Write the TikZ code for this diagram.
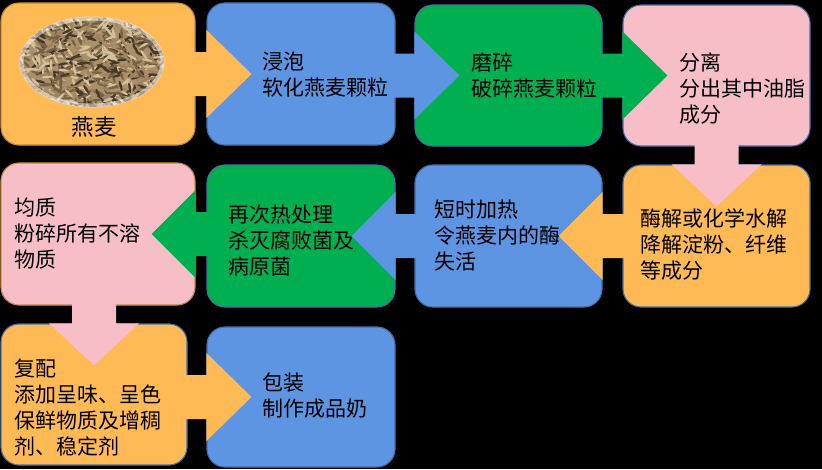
\documentclass[tikz,border=0pt]{standalone}
\usepackage{fontspec}
\newfontfamily\cjk{Noto Sans CJK SC}
\usetikzlibrary{calc}
\definecolor{cOr}{RGB}{255,185,85}
\definecolor{cBl}{RGB}{94,149,227}
\definecolor{cGr}{RGB}{0,176,80}
\definecolor{cPk}{RGB}{247,190,200}
\definecolor{edgeBl}{RGB}{65,113,170}
\definecolor{edgeOr}{RGB}{200,140,60}
\definecolor{oatBase}{RGB}{170,145,108}
\definecolor{oat0}{RGB}{72,56,40}
\definecolor{oat1}{RGB}{160,132,95}
\definecolor{oat2}{RGB}{212,192,155}
\definecolor{oat3}{RGB}{120,98,70}
\begin{document}
\begin{tikzpicture}[x=1pt,y=-1pt,
  box/.style={draw=edgeBl, line width=1.1pt, rounded corners=18pt, inner sep=0pt},
  txt/.style={font=\cjk\fontsize{21}{26}\selectfont, align=left, inner sep=0pt, anchor=west, text=black}]
\fill[black] (0,0) rectangle (822,469);
\useasboundingbox (0,0) rectangle (822,469);
% boxes
\node[box, draw=edgeOr, fill=cOr, minimum width=194pt, minimum height=142pt] (A) at (98,74) {};
\node[box, fill=cBl, minimum width=188pt, minimum height=142pt] (B) at (301,74) {};
\node[box, fill=cGr, minimum width=187pt, minimum height=141pt] (C) at (508.5,75.5) {};
\node[box, fill=cPk, minimum width=187pt, minimum height=141pt] (D) at (716.5,75.5) {};
\node[box, fill=cOr, minimum width=187pt, minimum height=142pt] (E) at (716.5,236) {};
\node[box, fill=cBl, minimum width=187pt, minimum height=142pt] (F) at (508.5,236) {};
\node[box, fill=cGr, minimum width=188pt, minimum height=142pt] (G) at (301,236) {};
\node[box, draw=edgeOr, fill=cPk, minimum width=194pt, minimum height=142pt] (H) at (98,234) {};
\node[box, fill=cOr, minimum width=186pt, minimum height=141pt] (I) at (94,394.5) {};
\node[box, fill=cBl, minimum width=188pt, minimum height=140pt] (J) at (301,397) {};
% oats picture
\begin{scope}
\clip (92,62) ellipse [x radius=72, y radius=45];
\fill[oatBase] (92,62) ellipse [x radius=72, y radius=45];
\pgfmathsetseed{11}
\foreach \i in {1,...,800}{
  \pgfmathsetmacro\gx{92+75*rand}
  \pgfmathsetmacro\gy{62+48*rand}
  \pgfmathsetmacro\ga{-20+70*rand}
  \pgfmathtruncatemacro\gc{mod(\i,4)}
  \fill[oat\gc, shift={(\gx,\gy)}, rotate=\ga] (0,0) ellipse [x radius=5.5, y radius=1.3];
}
\end{scope}
\draw[white, opacity=0.5, line width=4pt] (92,62) ellipse [x radius=70.5, y radius=43.5];
% arrows
\newcommand\rblk[3]{\fill[#3] ($(#1.east |- #2.west)+(-4,-22)$) -- ($(#2.west)+(0,-22)$) -- ($(#2.west)+(0,-44)$) -- ($(#2.west)+(45,0)$) -- ($(#2.west)+(0,44)$) -- ($(#2.west)+(0,22)$) -- ($(#1.east |- #2.west)+(-4,22)$) -- cycle;}
\newcommand\lblk[3]{\fill[#3] ($(#1.west |- #2.east)+(4,-22)$) -- ($(#2.east)+(0,-22)$) -- ($(#2.east)+(0,-44)$) -- ($(#2.east)+(-44,0)$) -- ($(#2.east)+(0,44)$) -- ($(#2.east)+(0,22)$) -- ($(#1.west |- #2.east)+(4,22)$) -- cycle;}
\newcommand\dblk[3]{\fill[#3] ($(#1.south -| #2.north)+(-22,-4)$) -- ($(#2.north)+(-22,0)$) -- ($(#2.north)+(-45,0)$) -- ($(#2.north)+(0,42)$) -- ($(#2.north)+(45,0)$) -- ($(#2.north)+(22,0)$) -- ($(#1.south -| #2.north)+(22,-4)$) -- cycle;}
\rblk{A}{B}{cOr}
\rblk{B}{C}{cBl}
\rblk{C}{D}{cGr}
\dblk{D}{E}{cPk}
\lblk{E}{F}{cOr}
\lblk{F}{G}{cBl}
\lblk{G}{H}{cGr}
\dblk{H}{I}{cPk}
\rblk{I}{J}{cOr}
% texts
\node[txt, anchor=center, font=\cjk\fontsize{22.5}{27}\selectfont] (tA) at (94,127) {燕麦};
\node[txt] (tB) at (262,75) {浸泡\\软化燕麦颗粒};
\node[txt] (tC) at (471,76) {磨碎\\破碎燕麦颗粒};
\node[txt] (tD) at (679,89) {分离\\分出其中油脂\\成分};
\node[txt] (tE) at (640,244) {酶解或化学水解\\降解淀粉、纤维\\等成分};
\node[txt] (tF) at (434,236) {短时加热\\令燕麦内的酶\\失活};
\node[txt] (tG) at (228,241) {再次热处理\\杀灭腐败菌及\\病原菌};
\node[txt] (tH) at (14,234) {均质\\粉碎所有不溶\\物质};
\node[txt] (tI) at (14,408) {复配\\添加呈味、呈色\\保鲜物质及增稠\\剂、稳定剂};
\node[txt] (tJ) at (262,396) {包装\\制作成品奶};
\end{tikzpicture}
\end{document}
